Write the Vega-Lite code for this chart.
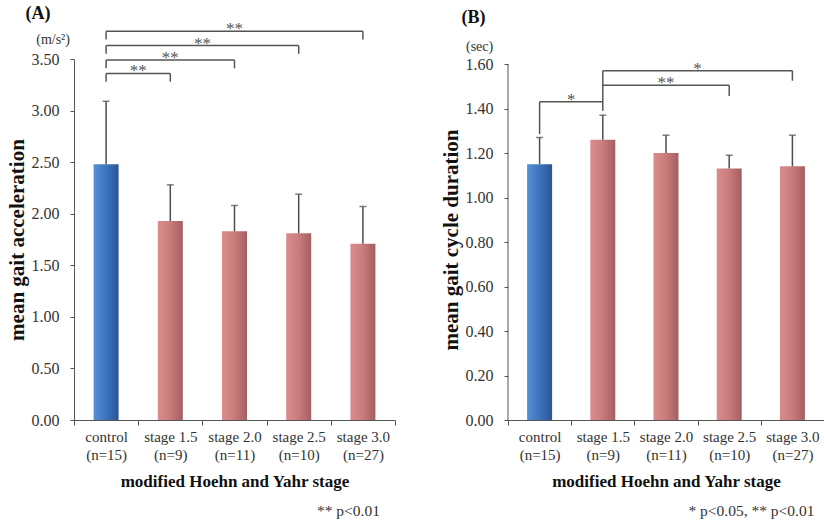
{
  "$schema": "https://vega.github.io/schema/vega-lite/v6.json",
  "background": "white",
  "padding": {"left": 6, "top": 4, "right": 0, "bottom": 0},
  "spacing": 44,
  "config": {
    "view": {"stroke": null},
    "font": "Liberation Serif",
    "axis": {"grid": false, "domainColor": "#555", "tickColor": "#555", "labelColor": "#333", "titleColor": "#111", "labelFont": "Liberation Serif", "titleFont": "Liberation Serif"}
  },
  "datasets": {
    "accel": [
      {"stage": "control|(n=15)", "group": "control", "mean": 2.48, "upper": 3.09},
      {"stage": "stage 1.5|(n=9)", "group": "PD", "mean": 1.93, "upper": 2.28},
      {"stage": "stage 2.0|(n=11)", "group": "PD", "mean": 1.83, "upper": 2.08},
      {"stage": "stage 2.5|(n=10)", "group": "PD", "mean": 1.81, "upper": 2.19},
      {"stage": "stage 3.0|(n=27)", "group": "PD", "mean": 1.71, "upper": 2.07}
    ],
    "cycle": [
      {"stage": "control|(n=15)", "group": "control", "mean": 1.15, "upper": 1.27},
      {"stage": "stage 1.5|(n=9)", "group": "PD", "mean": 1.26, "upper": 1.37},
      {"stage": "stage 2.0|(n=11)", "group": "PD", "mean": 1.20, "upper": 1.28},
      {"stage": "stage 2.5|(n=10)", "group": "PD", "mean": 1.13, "upper": 1.19},
      {"stage": "stage 3.0|(n=27)", "group": "PD", "mean": 1.14, "upper": 1.28}
    ],
    "bracketsA": [
      {"from": "control|(n=15)", "to": "stage 3.0|(n=27)", "y": 3.77, "lowFrom": 3.69, "lowTo": 3.69, "label": "**", "mid": "stage 2.0|(n=11)", "edge": false},
      {"from": "control|(n=15)", "to": "stage 2.5|(n=10)", "y": 3.63, "lowFrom": 3.55, "lowTo": 3.55, "label": "**", "mid": "stage 2.0|(n=11)", "edge": true},
      {"from": "control|(n=15)", "to": "stage 2.0|(n=11)", "y": 3.49, "lowFrom": 3.41, "lowTo": 3.41, "label": "**", "mid": "stage 1.5|(n=9)", "edge": false},
      {"from": "control|(n=15)", "to": "stage 1.5|(n=9)", "y": 3.36, "lowFrom": 3.28, "lowTo": 3.28, "label": "**", "mid": "stage 1.5|(n=9)", "edge": true}
    ],
    "bracketsB": [
      {"from": "control|(n=15)", "to": "stage 1.5|(n=9)", "y": 1.43, "lowFrom": 1.285, "lowTo": 1.39, "label": "*", "mid": "stage 1.5|(n=9)", "edge": true},
      {"from": "stage 1.5|(n=9)", "to": "stage 2.5|(n=10)", "y": 1.505, "lowFrom": 1.43, "lowTo": 1.456, "label": "**", "mid": "stage 2.0|(n=11)", "edge": false},
      {"from": "stage 1.5|(n=9)", "to": "stage 3.0|(n=27)", "y": 1.57, "lowFrom": 1.505, "lowTo": 1.525, "label": "*", "mid": "stage 2.5|(n=10)", "edge": true}
    ],
    "one": [{}]
  },
  "hconcat": [
    {
      "width": 321,
      "height": 361,
      "encoding": {
        "x": {
          "field": "stage", "type": "nominal",
          "scale": {"domain": ["control|(n=15)", "stage 1.5|(n=9)", "stage 2.0|(n=11)", "stage 2.5|(n=10)", "stage 3.0|(n=27)"], "paddingInner": 0, "paddingOuter": 0},
          "axis": {"title": "modified Hoehn and Yahr stage", "titleFontSize": 17, "titleFontWeight": "bold", "titlePadding": 11, "labelAngle": 0, "tickBand": "extent", "labelFontSize": 15, "labelLineHeight": 18, "labelPadding": 4, "tickSize": 5, "labelExpr": "split(datum.label, '|')"}
        },
        "y": {
          "type": "quantitative",
          "scale": {"domain": [0, 3.5], "nice": false},
          "axis": {"values": [0, 0.5, 1, 1.5, 2, 2.5, 3, 3.5], "format": ".2f", "title": "mean gait acceleration", "titleFontSize": 21, "titleFontWeight": "bold", "titlePadding": 4, "labelFontSize": 16, "labelPadding": 11, "tickSize": 4}
        }
      },
      "layer": [
        {
          "data": {"name": "accel"},
          "transform": [{"filter": "datum.group === 'control'"}],
          "mark": {"type": "bar", "size": 25, "color": {"gradient": "linear", "x1": 0, "x2": 1, "y1": 0, "y2": 0, "stops": [{"offset": 0, "color": "#5690d6"}, {"offset": 0.5, "color": "#3d73bd"}, {"offset": 1, "color": "#2a5595"}]}},
          "encoding": {"y": {"field": "mean", "type": "quantitative"}}
        },
        {
          "data": {"name": "accel"},
          "transform": [{"filter": "datum.group === 'PD'"}],
          "mark": {"type": "bar", "size": 25, "color": {"gradient": "linear", "x1": 0, "x2": 1, "y1": 0, "y2": 0, "stops": [{"offset": 0, "color": "#dc8c8c"}, {"offset": 0.5, "color": "#c97b7b"}, {"offset": 1, "color": "#a45f60"}]}},
          "encoding": {"y": {"field": "mean", "type": "quantitative"}}
        },
        {
          "data": {"name": "accel"},
          "mark": {"type": "rule", "color": "#4d4d4d", "strokeWidth": 1.5},
          "encoding": {"y": {"field": "mean", "type": "quantitative"}, "y2": {"field": "upper"}}
        },
        {
          "data": {"name": "accel"},
          "mark": {"type": "tick", "color": "#4d4d4d", "size": 7, "thickness": 1.5},
          "encoding": {"y": {"field": "upper", "type": "quantitative"}}
        },
        {
          "data": {"name": "bracketsA"},
          "mark": {"type": "rule", "color": "#555", "strokeWidth": 1.5, "clip": false},
          "encoding": {"x": {"field": "from", "type": "nominal"}, "x2": {"field": "to"}, "y": {"field": "y", "type": "quantitative"}}
        },
        {
          "data": {"name": "bracketsA"},
          "mark": {"type": "rule", "color": "#555", "strokeWidth": 1.5, "clip": false},
          "encoding": {"x": {"field": "from", "type": "nominal"}, "y": {"field": "y", "type": "quantitative"}, "y2": {"field": "lowFrom"}}
        },
        {
          "data": {"name": "bracketsA"},
          "mark": {"type": "rule", "color": "#555", "strokeWidth": 1.5, "clip": false},
          "encoding": {"x": {"field": "to", "type": "nominal"}, "y": {"field": "y", "type": "quantitative"}, "y2": {"field": "lowTo"}}
        },
        {
          "data": {"name": "bracketsA"},
          "transform": [{"filter": "!datum.edge"}],
          "mark": {"type": "text", "color": "#555", "fontSize": 17, "baseline": "alphabetic", "dy": 3},
          "encoding": {"x": {"field": "mid", "type": "nominal"}, "y": {"field": "y", "type": "quantitative"}, "text": {"field": "label"}}
        },
        {
          "data": {"name": "bracketsA"},
          "transform": [{"filter": "datum.edge"}],
          "mark": {"type": "text", "color": "#555", "fontSize": 17, "baseline": "alphabetic", "dy": 3},
          "encoding": {"x": {"field": "mid", "type": "nominal", "bandPosition": 0}, "y": {"field": "y", "type": "quantitative"}, "text": {"field": "label"}}
        },
        {
          "data": {"name": "one"},
          "mark": {"type": "text", "text": "(A)", "fontSize": 18, "fontWeight": "bold", "color": "#111", "dx": -68, "baseline": "middle"},
          "encoding": {"x": {"datum": "control|(n=15)"}, "y": {"datum": 3.94}}
        },
        {
          "data": {"name": "one"},
          "mark": {"type": "text", "text": "(m/s²)", "fontSize": 14, "color": "#333", "dx": -53, "baseline": "middle"},
          "encoding": {"x": {"datum": "control|(n=15)"}, "y": {"datum": 3.68}}
        },
        {
          "data": {"name": "one"},
          "mark": {"type": "text", "text": "** p<0.01", "fontSize": 15.5, "color": "#333", "dx": 17, "align": "right", "baseline": "middle"},
          "encoding": {"x": {"datum": "stage 3.0|(n=27)"}, "y": {"datum": -0.882}}
        }
      ]
    },
    {
      "width": 316,
      "height": 361,
      "encoding": {
        "x": {
          "field": "stage", "type": "nominal",
          "scale": {"domain": ["control|(n=15)", "stage 1.5|(n=9)", "stage 2.0|(n=11)", "stage 2.5|(n=10)", "stage 3.0|(n=27)"], "paddingInner": 0, "paddingOuter": 0},
          "axis": {"title": "modified Hoehn and Yahr stage", "titleFontSize": 17, "titleFontWeight": "bold", "titlePadding": 11, "labelAngle": 0, "tickBand": "extent", "labelFontSize": 15, "labelLineHeight": 18, "labelPadding": 4, "tickSize": 5, "labelExpr": "split(datum.label, '|')"}
        },
        "y": {
          "type": "quantitative",
          "scale": {"domain": [0, 1.6225], "nice": false},
          "axis": {"values": [0, 0.2, 0.4, 0.6, 0.8, 1, 1.2, 1.4, 1.6], "format": ".2f", "title": "mean gait cycle duration", "titleFontSize": 21, "titleFontWeight": "bold", "titlePadding": 4, "labelFontSize": 16, "labelPadding": 11, "tickSize": 4, "domain": false}
        }
      },
      "layer": [
        {
          "data": {"name": "cycle"},
          "transform": [{"filter": "datum.group === 'control'"}],
          "mark": {"type": "bar", "size": 25, "color": {"gradient": "linear", "x1": 0, "x2": 1, "y1": 0, "y2": 0, "stops": [{"offset": 0, "color": "#5690d6"}, {"offset": 0.5, "color": "#3d73bd"}, {"offset": 1, "color": "#2a5595"}]}},
          "encoding": {"y": {"field": "mean", "type": "quantitative"}}
        },
        {
          "data": {"name": "cycle"},
          "transform": [{"filter": "datum.group === 'PD'"}],
          "mark": {"type": "bar", "size": 25, "color": {"gradient": "linear", "x1": 0, "x2": 1, "y1": 0, "y2": 0, "stops": [{"offset": 0, "color": "#dc8c8c"}, {"offset": 0.5, "color": "#c97b7b"}, {"offset": 1, "color": "#a45f60"}]}},
          "encoding": {"y": {"field": "mean", "type": "quantitative"}}
        },
        {
          "data": {"name": "cycle"},
          "mark": {"type": "rule", "color": "#4d4d4d", "strokeWidth": 1.5},
          "encoding": {"y": {"field": "mean", "type": "quantitative"}, "y2": {"field": "upper"}}
        },
        {
          "data": {"name": "cycle"},
          "mark": {"type": "tick", "color": "#4d4d4d", "size": 7, "thickness": 1.5},
          "encoding": {"y": {"field": "upper", "type": "quantitative"}}
        },
        {
          "data": {"name": "one"},
          "mark": {"type": "rule", "color": "#555", "strokeWidth": 1},
          "encoding": {"x": {"datum": "control|(n=15)", "bandPosition": 0}, "y": {"datum": 0}, "y2": {"datum": 1.6}}
        },
        {
          "data": {"name": "bracketsB"},
          "mark": {"type": "rule", "color": "#555", "strokeWidth": 1.5, "clip": false},
          "encoding": {"x": {"field": "from", "type": "nominal"}, "x2": {"field": "to"}, "y": {"field": "y", "type": "quantitative"}}
        },
        {
          "data": {"name": "bracketsB"},
          "mark": {"type": "rule", "color": "#555", "strokeWidth": 1.5, "clip": false},
          "encoding": {"x": {"field": "from", "type": "nominal"}, "y": {"field": "y", "type": "quantitative"}, "y2": {"field": "lowFrom"}}
        },
        {
          "data": {"name": "bracketsB"},
          "mark": {"type": "rule", "color": "#555", "strokeWidth": 1.5, "clip": false},
          "encoding": {"x": {"field": "to", "type": "nominal"}, "y": {"field": "y", "type": "quantitative"}, "y2": {"field": "lowTo"}}
        },
        {
          "data": {"name": "bracketsB"},
          "transform": [{"filter": "!datum.edge"}],
          "mark": {"type": "text", "color": "#555", "fontSize": 17, "baseline": "alphabetic", "dy": 3},
          "encoding": {"x": {"field": "mid", "type": "nominal"}, "y": {"field": "y", "type": "quantitative"}, "text": {"field": "label"}}
        },
        {
          "data": {"name": "bracketsB"},
          "transform": [{"filter": "datum.edge"}],
          "mark": {"type": "text", "color": "#555", "fontSize": 17, "baseline": "alphabetic", "dy": 3},
          "encoding": {"x": {"field": "mid", "type": "nominal", "bandPosition": 0}, "y": {"field": "y", "type": "quantitative"}, "text": {"field": "label"}}
        },
        {
          "data": {"name": "one"},
          "mark": {"type": "text", "text": "(B)", "fontSize": 18, "fontWeight": "bold", "color": "#111", "dx": -66, "baseline": "middle"},
          "encoding": {"x": {"datum": "control|(n=15)"}, "y": {"datum": 1.807}}
        },
        {
          "data": {"name": "one"},
          "mark": {"type": "text", "text": "(sec)", "fontSize": 14, "color": "#333", "dx": -60, "baseline": "middle"},
          "encoding": {"x": {"datum": "control|(n=15)"}, "y": {"datum": 1.675}}
        },
        {
          "data": {"name": "one"},
          "mark": {"type": "text", "text": "* p<0.05, ** p<0.01", "fontSize": 15.5, "color": "#333", "dx": 22, "align": "right", "baseline": "middle"},
          "encoding": {"x": {"datum": "stage 3.0|(n=27)"}, "y": {"datum": -0.409}}
        }
      ]
    }
  ]
}
